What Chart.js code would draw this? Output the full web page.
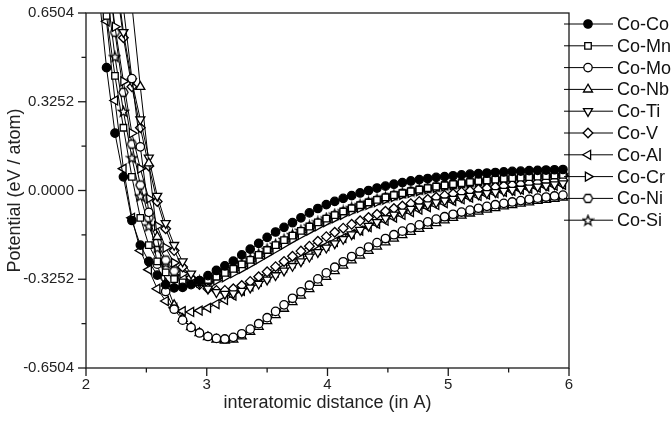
<!DOCTYPE html>
<html><head><meta charset="utf-8">
<script src="https://cdn.jsdelivr.net/npm/chart.js@4.4.1/dist/chart.umd.min.js"></script>
<style>html,body{margin:0;padding:0;background:#fff;}canvas{display:block;}</style>
</head><body>
<canvas id="c" width="671" height="423"></canvas>
<script>
// ---- data ----
const X = [2.03,2.10,2.17,2.24,2.31,2.38,2.45,2.52,2.59,2.66,
           2.73,2.80,2.87,2.94,3.01,3.08,3.15,3.22,3.29,3.36,
           3.43,3.50,3.57,3.64,3.71,3.78,3.85,3.92,3.99,4.06,
           4.13,4.20,4.27,4.34,4.41,4.48,4.55,4.62,4.69,4.76,
           4.83,4.90,4.97,5.04,5.11,5.18,5.25,5.32,5.39,5.46,
           5.53,5.60,5.67,5.74,5.81,5.88,5.95];
const SERIES_NAMES = ['Co-Co','Co-Mn','Co-Mo','Co-Nb','Co-Ti','Co-V','Co-Al','Co-Cr','Co-Ni','Co-Si'];
const CoCo = [1.20,0.75,0.45,0.21,0.05,-0.11,-0.20,-0.26,-0.31,-0.345,
              -0.357,-0.355,-0.345,-0.330,-0.312,-0.293,-0.276,-0.259,-0.236,-0.215,
              -0.194,-0.172,-0.152,-0.135,-0.118,-0.100,-0.082,-0.066,-0.052,-0.040,
              -0.029,-0.019,-0.009,0.000,0.009,0.016,0.023,0.029,0.035,0.040,
              0.044,0.048,0.051,0.054,0.057,0.060,0.062,0.064,0.066,0.068,
              0.070,0.071,0.073,0.074,0.075,0.076,0.077];
const CoMn = [1.35,0.95,0.64,0.42,0.23,0.05,-0.10,-0.20,-0.26,-0.30,
              -0.325,-0.337,-0.340,-0.336,-0.328,-0.316,-0.302,-0.287,-0.271,-0.254,
              -0.236,-0.218,-0.200,-0.182,-0.165,-0.148,-0.132,-0.117,-0.103,-0.090,
              -0.077,-0.065,-0.054,-0.044,-0.034,-0.025,-0.017,-0.010,-0.003,0.003,
              0.009,0.014,0.019,0.023,0.027,0.031,0.034,0.037,0.040,0.043,
              0.045,0.047,0.049,0.051,0.053,0.055,0.057];
const CoMo = [1.8,1.5,1.2,0.93,0.67,0.41,0.16,-0.08,-0.27,-0.37,
              -0.435,-0.475,-0.502,-0.522,-0.535,-0.542,-0.544,-0.538,-0.525,-0.508,
              -0.488,-0.466,-0.443,-0.419,-0.395,-0.371,-0.347,-0.324,-0.302,-0.281,
              -0.261,-0.242,-0.224,-0.207,-0.191,-0.176,-0.162,-0.149,-0.137,-0.126,
              -0.115,-0.105,-0.096,-0.087,-0.079,-0.072,-0.065,-0.058,-0.052,-0.047,
              -0.042,-0.037,-0.032,-0.028,-0.024,-0.020,-0.017];
const CoNb = [1.95,1.7,1.45,1.2,0.95,0.68,0.38,0.10,-0.17,-0.34,
              -0.42,-0.47,-0.50,-0.522,-0.537,-0.546,-0.550,-0.546,-0.534,-0.518,
              -0.499,-0.478,-0.456,-0.433,-0.409,-0.385,-0.361,-0.338,-0.316,-0.295,
              -0.275,-0.256,-0.238,-0.221,-0.205,-0.190,-0.176,-0.163,-0.151,-0.140,
              -0.129,-0.119,-0.109,-0.100,-0.092,-0.084,-0.077,-0.070,-0.064,-0.058,
              -0.053,-0.048,-0.043,-0.038,-0.034,-0.030,-0.026];
const CoTi = [1.6,1.35,1.08,0.82,0.58,0.40,0.26,0.12,-0.02,-0.12,
              -0.20,-0.26,-0.305,-0.338,-0.360,-0.373,-0.379,-0.377,-0.368,-0.356,
              -0.342,-0.327,-0.311,-0.294,-0.277,-0.260,-0.243,-0.226,-0.210,-0.194,
              -0.178,-0.161,-0.145,-0.130,-0.116,-0.102,-0.089,-0.078,-0.068,-0.059,
              -0.051,-0.044,-0.037,-0.031,-0.025,-0.020,-0.015,-0.010,-0.006,-0.002,
              0.002,0.006,0.010,0.014,0.018,0.022,0.026];
const CoV  = [1.55,1.3,1.04,0.79,0.56,0.38,0.23,0.09,-0.04,-0.14,
              -0.22,-0.28,-0.32,-0.345,-0.36,-0.366,-0.366,-0.360,-0.348,-0.333,
              -0.316,-0.298,-0.279,-0.260,-0.241,-0.222,-0.204,-0.186,-0.169,-0.153,
              -0.138,-0.124,-0.111,-0.099,-0.087,-0.076,-0.066,-0.057,-0.048,-0.040,
              -0.032,-0.025,-0.018,-0.012,-0.006,-0.001,0.004,0.009,0.013,0.017,
              0.021,0.024,0.027,0.030,0.033,0.036,0.038];
const CoAl = [1.3,0.95,0.62,0.33,0.08,-0.10,-0.22,-0.29,-0.36,-0.405,
              -0.430,-0.442,-0.445,-0.440,-0.430,-0.416,-0.401,-0.385,-0.368,-0.351,
              -0.334,-0.317,-0.300,-0.283,-0.266,-0.250,-0.234,-0.218,-0.203,-0.188,
              -0.174,-0.160,-0.147,-0.134,-0.122,-0.110,-0.099,-0.089,-0.079,-0.070,
              -0.061,-0.053,-0.046,-0.039,-0.032,-0.026,-0.020,-0.015,-0.010,-0.005,
              -0.001,0.003,0.007,0.011,0.015,0.018,0.021];
const CoCr = [1.5,1.15,0.85,0.60,0.40,0.21,0.08,-0.03,-0.13,-0.21,
              -0.265,-0.305,-0.328,-0.338,-0.338,-0.330,-0.318,-0.303,-0.287,-0.270,
              -0.252,-0.234,-0.216,-0.198,-0.180,-0.163,-0.147,-0.131,-0.116,-0.102,
              -0.089,-0.076,-0.064,-0.053,-0.043,-0.033,-0.024,-0.016,-0.009,-0.002,
              0.004,0.010,0.015,0.020,0.024,0.028,0.031,0.034,0.037,0.040,
              0.043,0.045,0.047,0.049,0.051,0.053,0.055];
const CoNi = [1.6,1.2,0.86,0.58,0.36,0.17,0.02,-0.10,-0.19,-0.255,
              -0.295,-0.32,-0.332,-0.335,-0.330,-0.320,-0.307,-0.292,-0.276,-0.259,
              -0.241,-0.223,-0.205,-0.187,-0.170,-0.153,-0.137,-0.121,-0.107,-0.093,
              -0.080,-0.068,-0.057,-0.046,-0.036,-0.027,-0.019,-0.011,-0.004,0.002,
              0.008,0.013,0.018,0.022,0.026,0.030,0.033,0.036,0.039,0.042,
              0.044,0.046,0.048,0.050,0.052,0.054,0.056];
const CoSi = [1.45,1.05,0.74,0.49,0.29,0.12,-0.02,-0.13,-0.21,-0.265,
              -0.30,-0.322,-0.331,-0.331,-0.325,-0.314,-0.300,-0.285,-0.268,-0.251,
              -0.233,-0.215,-0.197,-0.179,-0.162,-0.146,-0.130,-0.115,-0.101,-0.087,
              -0.075,-0.063,-0.052,-0.042,-0.032,-0.024,-0.016,-0.009,-0.002,0.004,
              0.010,0.015,0.020,0.024,0.028,0.032,0.035,0.038,0.041,0.044,
              0.046,0.048,0.050,0.052,0.054,0.056,0.058];
const X_TICKS = [2,3,4,5,6];
const X_MINOR = [2.5,3.5,4.5,5.5];
const Y_TICKS = [-0.6504,-0.3252,0,0.3252,0.6504];
const Y_MINOR = [-0.4878,-0.1626,0.1626,0.4878];

const SERIES = [CoCo,CoMn,CoMo,CoNb,CoTi,CoV,CoAl,CoCr,CoNi,CoSi];

// ---- marker images (hexagon and star are not built into Chart.js) ----
function makeMarker(kind){
  const s=13, m=6.5, c=document.createElement('canvas'); c.width=s; c.height=s;
  const g=c.getContext('2d'); g.lineWidth=1.3; g.strokeStyle='#000'; g.fillStyle='#fff';
  g.beginPath();
  if(kind==='hex'){
    for(let i=0;i<6;i++){const a=i*Math.PI/3; const px=m+4.6*Math.cos(a), py=m+4.6*Math.sin(a); i?g.lineTo(px,py):g.moveTo(px,py);}
  } else {
    for(let i=0;i<10;i++){const a=-Math.PI/2+i*Math.PI/5; const r=i%2?2.2:5.3; const px=m+r*Math.cos(a), py=m+0.5+r*Math.sin(a); i?g.lineTo(px,py):g.moveTo(px,py);}
  }
  g.closePath(); g.fill(); g.stroke();
  return c;
}
const HEX = makeMarker('hex'), STAR = makeMarker('star');
// [pointStyle, rotation, fill, radius]
const STYLES = [
  ['circle',0,'#000',4.2],
  ['rect',0,'#fff',4.6],
  ['circle',0,'#fff',4.2],
  ['triangle',0,'#fff',5.2],
  ['triangle',180,'#fff',5.2],
  ['rectRot',0,'#fff',4.8],
  ['triangle',-90,'#fff',5.2],
  ['triangle',90,'#fff',5.2],
  [HEX,0,'#fff',4.5],
  [STAR,0,'#fff',4.5]
];

const FONT = '"Liberation Sans", Arial, Helvetica, sans-serif';

const datasets = SERIES.map((arr,i)=>({
  label: SERIES_NAMES[i],
  data: X.map((x,j)=>({x:x, y:arr[j]})),
  borderColor:'#000', borderWidth:1,
  pointStyle: STYLES[i][0], pointRotation: STYLES[i][1],
  pointBackgroundColor: STYLES[i][2], pointBorderColor:'#000', pointBorderWidth:1.3,
  pointRadius: STYLES[i][3], pointHoverRadius: STYLES[i][3],
  tension:0, fill:false
}));

const framePlugin = {
  id:'frame',
  afterDraw(chart){
    const ctx=chart.ctx, ca=chart.chartArea, xs=chart.scales.x, ys=chart.scales.y;
    ctx.save();
    ctx.strokeStyle='#1a1a1a'; ctx.lineWidth=1.3;
    ctx.strokeRect(ca.left, ca.top, ca.right-ca.left, ca.bottom-ca.top);
    const line=(x1,y1,x2,y2)=>{ctx.beginPath();ctx.moveTo(x1,y1);ctx.lineTo(x2,y2);ctx.stroke();};
    X_TICKS.forEach(v=>{const p=xs.getPixelForValue(v); line(p,ca.bottom,p,ca.bottom+8);});
    X_MINOR.forEach(v=>{const p=xs.getPixelForValue(v); line(p,ca.bottom,p,ca.bottom+4.5);});
    Y_TICKS.forEach(v=>{const p=ys.getPixelForValue(v); line(ca.left-8,p,ca.left,p);});
    Y_MINOR.forEach(v=>{const p=ys.getPixelForValue(v); line(ca.left-4.5,p,ca.left,p);});
    // legend
    ctx.lineWidth=1; ctx.strokeStyle='#000';
    ctx.font='18px '+FONT; ctx.textBaseline='middle'; ctx.textAlign='left';
    SERIES_NAMES.forEach((name,i)=>{
      const y=24+21.8*i;
      ctx.strokeStyle='#000'; ctx.lineWidth=1;
      line(564,y,613,y);
      const st=STYLES[i];
      ctx.fillStyle=st[2]; ctx.strokeStyle='#000'; ctx.lineWidth=1.3;
      Chart.helpers.drawPoint(ctx,{pointStyle:st[0],rotation:st[1],radius:st[3],borderWidth:1.3},588,y);
      ctx.fillStyle='#111';
      ctx.fillText(name,617,y+1);
    });
    ctx.restore();
  }
};

new Chart(document.getElementById('c'),{
  type:'line',
  data:{datasets},
  plugins:[framePlugin],
  options:{
    responsive:false, animation:false,
    layout:{padding:{top:11,right:102,left:0,bottom:0}, autoPadding:false},
    plugins:{legend:{display:false}, tooltip:{enabled:false}},
    scales:{
      x:{type:'linear', min:2, max:6,
         afterFit:s=>{s.height=55;},
         afterBuildTicks:s=>{s.ticks=X_TICKS.map(v=>({value:v}));},
         grid:{display:false, drawTicks:true, tickLength:8},
         border:{display:false},
         ticks:{padding:0, color:'#222', font:{family:FONT,size:15}, callback:v=>String(v), maxRotation:0},
         title:{display:true, text:'interatomic distance (in A)', color:'#222', font:{family:FONT,size:18}, padding:{top:0,bottom:9}}
      },
      y:{type:'linear', min:-0.6504, max:0.6504,
         afterFit:s=>{s.width=86;},
         afterBuildTicks:s=>{s.ticks=Y_TICKS.map(v=>({value:v}));},
         grid:{display:false, drawTicks:true, tickLength:8},
         border:{display:false},
         ticks:{padding:4, color:'#222', font:{family:FONT,size:15}, callback:v=>Number(v).toFixed(4)},
         title:{display:true, text:'Potential (eV / atom)', color:'#222', font:{family:FONT,size:18}, padding:{top:4,bottom:0}}
      }
    }
  }
});
</script>
</body></html>
